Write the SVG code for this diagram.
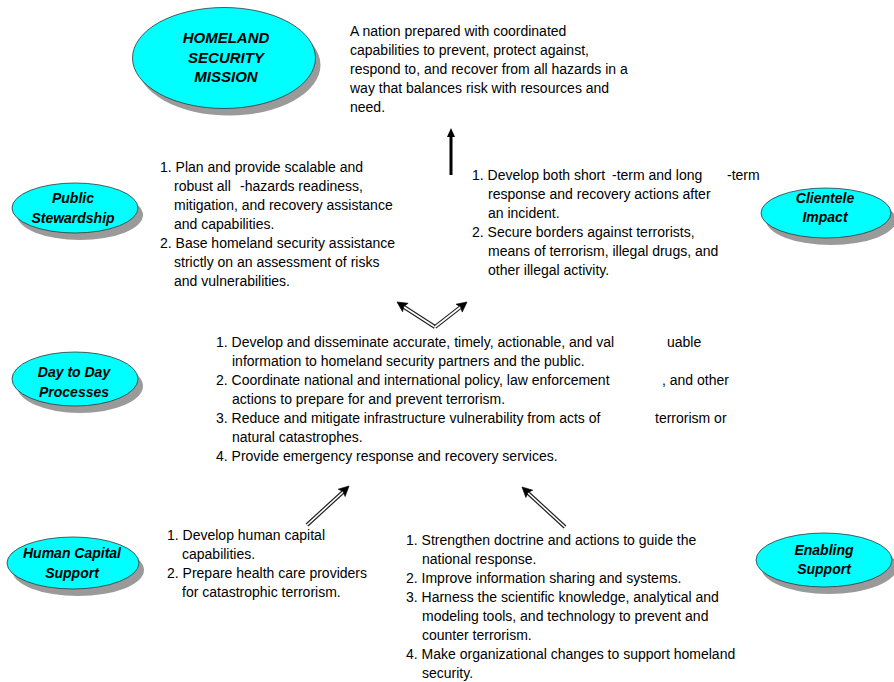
<svg xmlns="http://www.w3.org/2000/svg" width="894" height="682" viewBox="0 0 894 682">
<style>
.bg{fill:#ffffff}
.shadow{fill:#9a9a9a}
.node{fill:#00ffff;stroke:#333333;stroke-width:0.8}
.lbl{font-family:"Liberation Sans",Arial,sans-serif;font-weight:bold;font-style:italic;font-size:14px;fill:#000;text-anchor:middle}
.big{font-size:15px}
.t{font-family:"Liberation Sans",Arial,sans-serif;font-size:14px;fill:#000}
.shaftO{stroke:#222;stroke-width:4;fill:none}
.shaftI{stroke:#fff;stroke-width:1.6;fill:none}
.head{fill:#000;stroke:#000;stroke-width:0.6}
</style>
<defs>
<path id="ah" d="M0,0 L-10,-5 L-8,0 L-10,5 Z"/>
<path id="ahs" d="M0,0 L-9,-4 L-9,4 Z"/>
</defs>
<rect class="bg" x="0" y="0" width="894" height="682"/>

<g id="homeland-security-mission">
<ellipse class="shadow" cx="229" cy="65" rx="91.5" ry="50.5"/>
<ellipse class="node" cx="224" cy="58" rx="91.5" ry="50.5"/>
<text class="lbl big" x="226" y="43">HOMELAND</text>
<text class="lbl big" x="226" y="63">SECURITY</text>
<text class="lbl big" x="226" y="82">MISSION</text>
</g>

<g id="public-stewardship">
<ellipse class="shadow" cx="80" cy="215" rx="63" ry="25"/>
<ellipse class="node" cx="75" cy="208" rx="63" ry="25"/>
<text class="lbl" x="73" y="203">Public</text>
<text class="lbl" x="73" y="223">Stewardship</text>
</g>

<g id="clientele-impact">
<ellipse class="shadow" cx="831" cy="220" rx="65" ry="25"/>
<ellipse class="node" cx="826" cy="213" rx="65" ry="25"/>
<text class="lbl" x="825" y="203">Clientele</text>
<text class="lbl" x="825" y="222">Impact</text>
</g>

<g id="day-to-day-processes">
<ellipse class="shadow" cx="80" cy="386" rx="63" ry="27"/>
<ellipse class="node" cx="75" cy="379" rx="63" ry="27"/>
<text class="lbl" x="74" y="377">Day to Day</text>
<text class="lbl" x="74" y="397">Processes</text>
</g>

<g id="human-capital-support">
<ellipse class="shadow" cx="78" cy="570" rx="66" ry="26"/>
<ellipse class="node" cx="73" cy="563" rx="66" ry="26"/>
<text class="lbl" x="72" y="558">Human Capital</text>
<text class="lbl" x="72" y="578">Support</text>
</g>

<g id="enabling-support">
<ellipse class="shadow" cx="829" cy="567" rx="68" ry="27"/>
<ellipse class="node" cx="824" cy="560" rx="68" ry="27"/>
<text class="lbl" x="824" y="555">Enabling</text>
<text class="lbl" x="824" y="574">Support</text>
</g>

<g id="mission-text">
<text class="t" x="350" y="36">A nation prepared with coordinated</text>
<text class="t" x="350" y="55">capabilities to prevent, protect against,</text>
<text class="t" x="350" y="74">respond to, and recover from all hazards in a</text>
<text class="t" x="350" y="93">way that balances risk with resources and</text>
<text class="t" x="350" y="112">need.</text>
</g>

<g id="stewardship-text">
<text class="t" x="160" y="172">1. Plan and provide scalable and</text>
<text class="t" x="174" y="191">robust all</text>
<text class="t" x="240" y="191">-hazards readiness,</text>
<text class="t" x="174" y="210">mitigation, and recovery assistance</text>
<text class="t" x="174" y="229">and capabilities.</text>
<text class="t" x="160" y="248">2. Base homeland security assistance</text>
<text class="t" x="174" y="267">strictly on an assessment of risks</text>
<text class="t" x="174" y="286">and vulnerabilities.</text>
</g>

<g id="clientele-text">
<text class="t" x="472" y="180">1. Develop both short</text>
<text class="t" x="612" y="180">-term and long</text>
<text class="t" x="727" y="180">-term</text>
<text class="t" x="488" y="199">response and recovery actions after</text>
<text class="t" x="488" y="218">an incident.</text>
<text class="t" x="472" y="237">2. Secure borders against terrorists,</text>
<text class="t" x="488" y="256">means of terrorism, illegal drugs, and</text>
<text class="t" x="488" y="275">other illegal activity.</text>
</g>

<g id="processes-text">
<text class="t" x="216" y="347">1. Develop and disseminate accurate, timely, actionable, and val</text>
<text class="t" x="667" y="347">uable</text>
<text class="t" x="232" y="366">information to homeland security partners and the public.</text>
<text class="t" x="216" y="385">2. Coordinate national and international policy, law enforcement</text>
<text class="t" x="662" y="385">, and other</text>
<text class="t" x="232" y="404">actions to prepare for and prevent terrorism.</text>
<text class="t" x="216" y="423">3. Reduce and mitigate infrastructure vulnerability from acts of</text>
<text class="t" x="655" y="423">terrorism or</text>
<text class="t" x="232" y="442">natural catastrophes.</text>
<text class="t" x="216" y="461">4. Provide emergency response and recovery services.</text>
</g>

<g id="human-capital-text">
<text class="t" x="167" y="540">1. Develop human capital</text>
<text class="t" x="182" y="559">capabilities.</text>
<text class="t" x="167" y="578">2. Prepare health care providers</text>
<text class="t" x="182" y="597">for catastrophic terrorism.</text>
</g>

<g id="enabling-text">
<text class="t" x="406" y="545">1. Strengthen doctrine and actions to guide the</text>
<text class="t" x="422" y="564">national response.</text>
<text class="t" x="406" y="583">2. Improve information sharing and systems.</text>
<text class="t" x="406" y="602">3. Harness the scientific knowledge, analytical and</text>
<text class="t" x="422" y="621">modeling tools, and technology to prevent and</text>
<text class="t" x="422" y="640">counter terrorism.</text>
<text class="t" x="406" y="659">4. Make organizational changes to support homeland</text>
<text class="t" x="422" y="678">security.</text>
</g>

<g id="connectors">
<line x1="451" y1="175" x2="451" y2="136" stroke="#000" stroke-width="3"/>
<use href="#ahs" transform="translate(451,128) rotate(-90)"/>

<line class="shaftO" x1="435" y1="327" x2="404" y2="307"/>
<line class="shaftI" x1="435" y1="327" x2="404" y2="307"/>
<use class="head" href="#ah" transform="translate(397,302) rotate(-146.7)"/>
<line class="shaftO" x1="435" y1="327" x2="460" y2="307.5"/>
<line class="shaftI" x1="435" y1="327" x2="460" y2="307.5"/>
<use class="head" href="#ah" transform="translate(467,302) rotate(-38)"/>

<line class="shaftO" x1="307" y1="525" x2="343" y2="492"/>
<line class="shaftI" x1="307" y1="525" x2="343" y2="492"/>
<use class="head" href="#ah" transform="translate(349,486) rotate(-42.9)"/>

<line class="shaftO" x1="565" y1="527" x2="528" y2="493"/>
<line class="shaftI" x1="565" y1="527" x2="528" y2="493"/>
<use class="head" href="#ah" transform="translate(522,487) rotate(-137)"/>
</g>
</svg>
